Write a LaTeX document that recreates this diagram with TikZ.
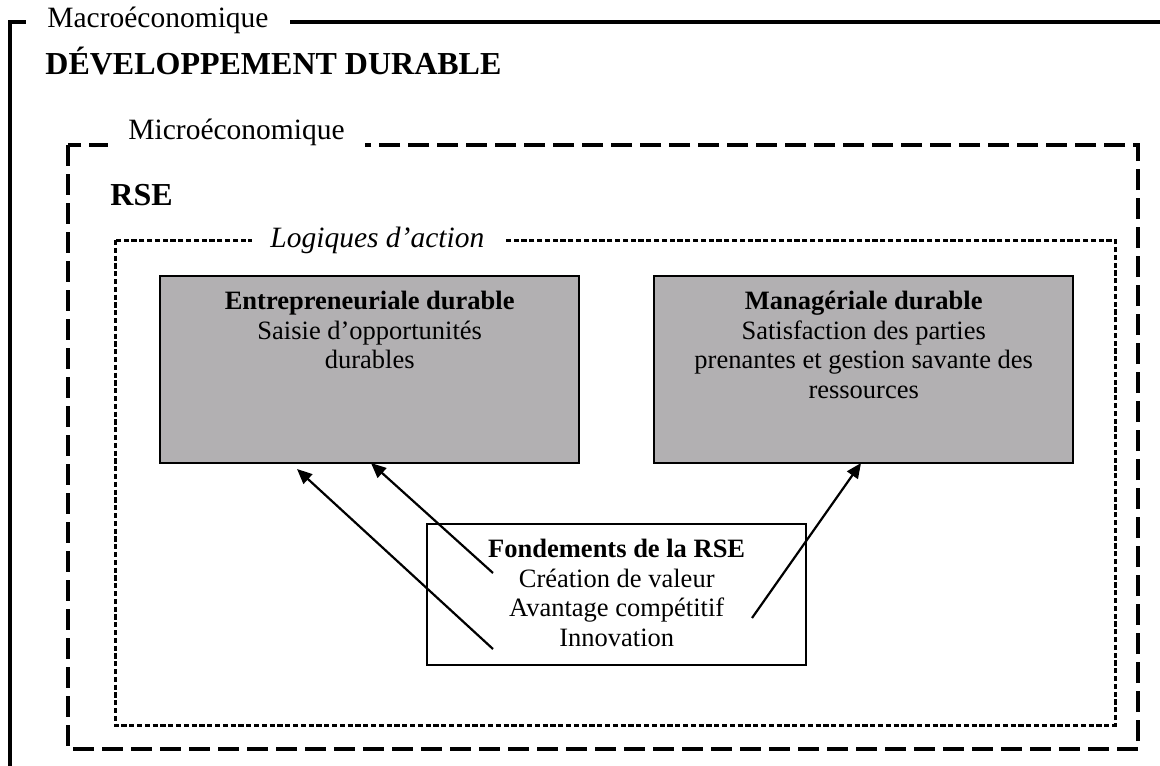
\documentclass[tikz,border=0pt]{standalone}
\usepackage{fontspec}
\setmainfont{Liberation Serif}
\usetikzlibrary{positioning,arrows.meta}
\definecolor{boxgray}{RGB}{178,176,178}

\begin{document}
\begin{tikzpicture}[x=0.5pt, y=-0.5pt,
    framelabel/.style={fill=white, inner xsep=10pt, inner ysep=3pt, anchor=base west, font=\fontsize{14.75}{16}\selectfont},
    headtext/.style={inner sep=0pt, anchor=base west, font=\fontsize{16}{18}\selectfont\bfseries},
    logicbox/.style={draw, line width=1.2pt, fill=boxgray, minimum width=209.5pt, minimum height=93.5pt, inner sep=0pt, anchor=north west},
    basebox/.style={draw, line width=1.2pt, fill=white, minimum width=189.5pt, minimum height=70.5pt, inner sep=0pt, anchor=north west},
    boxtext/.style={inner sep=0pt, align=center, font=\fontsize{13.25}{14.75}\selectfont},
    link/.style={line width=1.1pt, -{Triangle[length=7.5pt,width=6.5pt]}}]

   \useasboundingbox (0,0) rectangle (1160,765);

   \draw[line width=1.7pt] (1170,22) -| (10,775);
   \draw[line width=1.6pt, dash pattern=on 10.5pt off 4pt] (68,145) rectangle (1138,749);
   \draw[line width=1.5pt, dash pattern=on 2.6pt off 1.3pt] (115,240) rectangle (1115,725);

   \node[framelabel, inner xsep=10.5pt] (macro) at (26,28) {Macroéconomique};
   \node[framelabel] (micro) at (108,139) {Microéconomique};
   \node[framelabel, inner xsep=9.25pt, font=\fontsize{14.75}{16}\selectfont\itshape] (logic) at (251.5,247) {Logiques d’action};

   \node[headtext] (dd) at (45,75) {DÉVELOPPEMENT DURABLE};
   \node[headtext] (rse) at (110,205) {RSE};

   \node[logicbox] (entre) at (159,275) {};
   \node[logicbox] (manag) at (653,275) {};
   \node[boxtext, below=8pt of entre.north] (entretxt)
        {\textbf{Entrepreneuriale durable}\\Saisie d’opportunités\\durables};
   \node[boxtext, below=8pt of manag.north] (managtxt)
        {\textbf{Managériale durable}\\Satisfaction des parties\\prenantes et gestion savante des\\ressources};

   \node[basebox] (fond) at (426,523) {};
   \node[boxtext, below=8pt of fond.north] (fondtxt)
        {\textbf{Fondements de la RSE}\\Création de valeur\\Avantage compétitif\\Innovation};

   \foreach \n/\x/\y in {s1/493/649, t1/297/469, s2/493/573, t2/371/463, s3/752/618, t3/861/463}
     \coordinate (\n) at (\x,\y);

   \foreach \s/\t in {s1/t1, s2/t2, s3/t3}
        \draw[link] (\s) -- (\t);

\end{tikzpicture}
\end{document}
